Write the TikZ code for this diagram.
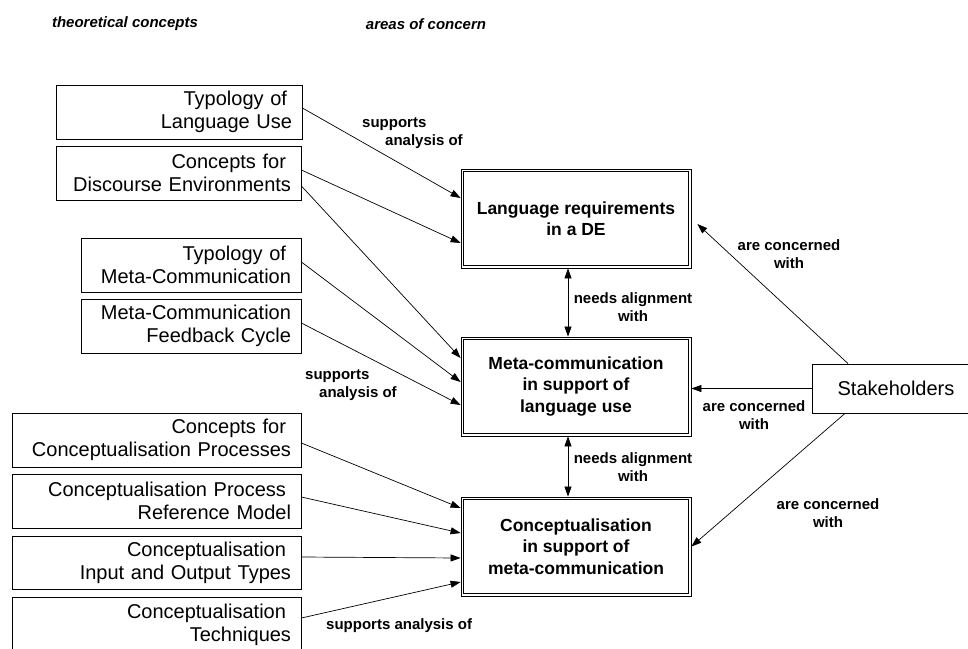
\documentclass[tikz,border=0pt]{standalone}
\usepackage{fontspec}
\setmainfont{Liberation Sans}
\usetikzlibrary{arrows.meta}

\begin{document}
\begin{tikzpicture}[x=1pt,y=-1pt,
  concept/.style={draw=black, line width=0.8pt, fill=white, inner xsep=10pt, inner ysep=0pt,
    align=right, font=\fontsize{20}{23}\selectfont},
  area/.style={draw=black, line width=0.8pt, fill=white,
    minimum width=230pt, minimum height=99pt, align=center,
    font=\fontsize{17.5}{21.5}\selectfont\bfseries},
  areainner/.style={draw=black, line width=0.8pt},
  actor/.style={draw=black, line width=0.8pt, fill=white, minimum width=168pt, minimum height=49pt,
    font=\fontsize{20}{23}\selectfont},
  lbl/.style={font=\fontsize{15}{18}\selectfont\bfseries, inner sep=0pt},
  head/.style={font=\fontsize{15}{18}\selectfont\bfseries\itshape, inner sep=0pt},
  link/.style={line width=0.7pt, -{Triangle[length=10pt,width=7pt]}},
  both/.style={line width=0.7pt, {Triangle[length=10pt,width=7pt]}-{Triangle[length=10pt,width=7pt]}}
]
\useasboundingbox (0,0) rectangle (968,648);
\fill[white] (0,0) rectangle (968,648);

% column headings
\node[head] (hleft) at (125,24) {theoretical concepts};
\node[head] (hright) at (426,24) {areas of concern};

% theoretical concepts
\node[concept, text width=226pt, minimum height=54pt] (c1) at (179,112)
  {Typology of\hspace*{5pt}\null\\Language Use};
\node[concept, text width=225pt, minimum height=54pt] (c2) at (178.5,173)
  {Concepts for\hspace*{5pt}\null\\Discourse Environments};
\node[concept, text width=200pt, minimum height=54pt] (c3) at (191,265)
  {Typology of\hspace*{5pt}\null\\Meta-Communication};
\node[concept, text width=200pt, minimum height=54pt] (c4) at (191,326)
  {Meta-Communication\\Feedback Cycle};
\node[concept, text width=269pt, minimum height=54pt] (c5) at (156.5,440)
  {Concepts for\hspace*{5pt}\null\\Conceptualisation Processes};
\node[concept, text width=269pt, minimum height=54pt] (c6) at (156.5,501)
  {Conceptualisation Process\hspace*{5pt}\null\\Reference Model};
\node[concept, text width=269pt, minimum height=53pt] (c7) at (156.5,562.5)
  {Conceptualisation\hspace*{5pt}\null\\Input and Output Types};
\node[concept, text width=269pt, minimum height=55pt] (c8) at (156.5,624.5)
  {Conceptualisation\hspace*{5pt}\null\\Techniques};

% areas of concern, each framed by a double border
\node[area] (lr) at (576,218.5) {Language requirements\\in a DE};
\node[area] (mc) at (576,386.5) {Meta-communication\\in support of\\language use};
\node[area] (cm) at (576,546.5) {Conceptualisation\\in support of\\meta-communication};
\foreach \n in {lr,mc,cm}
  \draw[areainner] ([xshift=2.6pt,yshift=-2.6pt]\n.north west)
    rectangle ([xshift=-2.6pt,yshift=2.6pt]\n.south east);

% stakeholders
\node[actor] (st) at (896,388.5) {Stakeholders};

% concepts support analysis of the areas
\draw[link] ([yshift=4pt]c1.east) -- ([yshift=20.5pt]lr.west);
\draw[link] ([yshift=3pt]c2.east) -- ([yshift=-24.5pt]lr.west);
\draw[link] ([yshift=-13pt]c2.east) -- ([yshift=28.5pt]mc.west);
\draw[link] ([yshift=3pt]c3.east) -- ([yshift=4.5pt]mc.west);
\draw[link] ([yshift=3pt]c4.east) -- ([yshift=-18.5pt]mc.west);
\draw[link] ([yshift=-3pt]c5.east) -- ([yshift=38.5pt]cm.west);
\draw[link] ([yshift=4pt]c6.east) -- ([yshift=13.5pt]cm.west);
\draw[link] ([yshift=5.5pt]c7.east) -- ([yshift=-11.5pt]cm.west);
\draw[link] ([yshift=6.5pt]c8.east) -- ([yshift=-35.5pt]cm.west);

\node[lbl, anchor=north west, align=left] (s1) at (362,118) {supports\\\hspace*{23pt}analysis of};
\node[lbl, anchor=north west, align=left] (s2) at (305,370) {supports\\\hspace*{14pt}analysis of};
\node[lbl, anchor=west] (s3) at (326,626) {supports analysis of};

% alignment between areas
\draw[both] ([xshift=-8pt]lr.south) -- ([xshift=-8pt]mc.north);
\draw[both] ([xshift=-8pt]mc.south) -- ([xshift=-8pt]cm.north);
\node[lbl, align=center] (a1) at (633,307) {needs alignment\\with};
\node[lbl, align=center] (a2) at (633,467) {needs alignment\\with};

% stakeholders are concerned with the areas
\draw[link] ([xshift=-48pt]st.north) -- ([xshift=6pt,yshift=-5.5pt]lr.east);
\draw[link] (st.west) -- (st.west -| mc.east);
\draw[link] ([xshift=-51pt]st.south) -- (cm.east);
\node[lbl, align=center] (k1) at (789,254) {are concerned\\with};
\node[lbl, align=center] (k2) at (754,415) {are concerned\\with};
\node[lbl, align=center] (k3) at (828,513) {are concerned\\with};
\end{tikzpicture}
\end{document}
